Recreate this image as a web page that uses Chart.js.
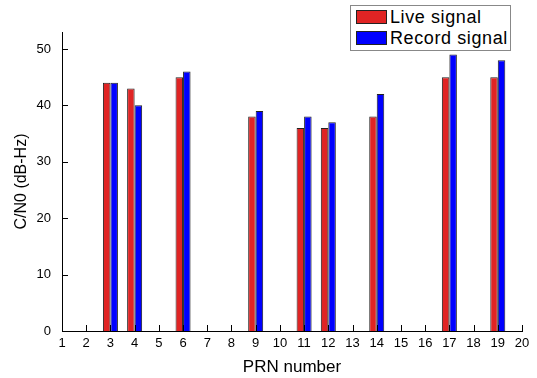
<!DOCTYPE html>
<html>
<head>
<meta charset="utf-8">
<title>C/N0 per PRN</title>
<script src="https://cdn.jsdelivr.net/npm/chart.js@4/dist/chart.umd.min.js"></script>
<style>
  html, body { margin: 0; padding: 0; background: #fff; }
  #wrap { position: relative; width: 537px; height: 378px; }
  #legend {
    position: absolute; left: 350px; top: 5px; width: 159px; height: 44px;
    border: 1px solid #888; background: #fff;
    font: 18px "Liberation Sans", Arial, sans-serif; color: #000; letter-spacing: 0.6px;
  }
  .lg-row { position: absolute; left: 5px; height: 21px; line-height: 21px; white-space: nowrap; }
  .lg-box { display: inline-block; width: 29px; height: 12px; border: 1px solid #222; vertical-align: -1px; margin-right: 3px; }
</style>
</head>
<body>
<div id="wrap">
  <canvas id="c" width="537" height="378"></canvas>
  <div id="legend"></div>
</div>
<script>
// ── Data ───────────────────────────────────────────────────
const PRN_LABELS = ['1','2','3','4','5','6','7','8','9','10','11','12','13','14','15','16','17','18','19','20'];
const LIVE_CN0   = [null, null, 44, 43, null, 45, null, null, 38, null, 36, 36, null, 38, null, null, 45, null, 45, null];
const RECORD_CN0 = [null, null, 44, 40, null, 46, null, null, 39, null, 38, 37, null, 42, null, null, 49, null, 48, null];
const SERIES_NAMES  = ['Live signal', 'Record signal'];
const SERIES_COLORS = ['#e02424', '#0000ff'];

(function () {
  'use strict';

  const FONT = '"Liberation Sans", Arial, sans-serif';

  // ── Inward tick marks (origin-style axes) ──────────────────
  const inwardTicks = {
    id: 'inwardTicks',
    afterDatasetsDraw(chart) {
      const ctx = chart.ctx;
      const xs = chart.scales.x, ys = chart.scales.y;
      ctx.save();
      ctx.strokeStyle = '#000';
      ctx.lineWidth = 1;
      ctx.beginPath();
      xs.ticks.forEach((t, i) => {
        const px = Math.round(xs.getPixelForTick(i)) + 0.5;
        ctx.moveTo(px, ys.bottom);
        ctx.lineTo(px, ys.bottom - 6);
      });
      ys.ticks.forEach((t, i) => {
        const py = Math.round(ys.getPixelForTick(i)) + 0.5;
        ctx.moveTo(xs.left, py);
        ctx.lineTo(xs.left + 6, py);
      });
      ctx.stroke();
      ctx.restore();
    }
  };

  const chart = new Chart(document.getElementById('c'), {
    type: 'bar',
    data: {
      labels: PRN_LABELS,
      datasets: [LIVE_CN0, RECORD_CN0].map((d, i) => ({
        label: SERIES_NAMES[i],
        data: d,
        backgroundColor: SERIES_COLORS[i],
        borderColor: '#222',
        borderWidth: 1,
        categoryPercentage: 0.62,
        barPercentage: 1.0,
      })),
    },
    options: {
      responsive: false,
      animation: false,
      layout: { padding: { top: 32, right: 15, left: 0, bottom: 0 } },
      plugins: { legend: { display: false }, tooltip: { enabled: false } },
      scales: {
        x: {
          offset: false,
          grid: { display: false, offset: false, drawTicks: false, tickLength: 0 },
          border: { display: true, color: '#000', width: 1 },
          ticks: { color: '#000', font: { family: FONT, size: 13 }, padding: 5, maxRotation: 0, autoSkip: false },
          title: { display: true, text: 'PRN number', color: '#000', font: { family: FONT, size: 17 }, padding: { top: 4, bottom: 0 } },
          afterFit: s => { s.height = 47; },
        },
        y: {
          min: 0,
          max: 53,
          grid: { display: false, drawTicks: false, tickLength: 0 },
          border: { display: true, color: '#000', width: 1 },
          ticks: { stepSize: 10, color: '#000', font: { family: FONT, size: 13 }, padding: 11 },
          afterBuildTicks: s => { s.ticks = s.ticks.filter(t => t.value % 10 === 0); },
          title: { display: true, text: 'C/N0 (dB-Hz)', color: '#000', font: { family: FONT, size: 16 }, padding: { top: 12, bottom: 0 } },
          afterFit: s => { s.width = 62; },
        },
      },
    },
    plugins: [inwardTicks],
  });

  // ── HTML legend ────────────────────────────────────────────
  const lg = document.getElementById('legend');
  chart.data.datasets.forEach((ds, i) => {
    const row = document.createElement('div');
    row.className = 'lg-row';
    row.style.top = (i * 21 + 1) + 'px';
    row.innerHTML = `<span class="lg-box" style="background:${ds.backgroundColor}"></span>${ds.label}`;
    lg.appendChild(row);
  });
})();
</script>
</body>
</html>
